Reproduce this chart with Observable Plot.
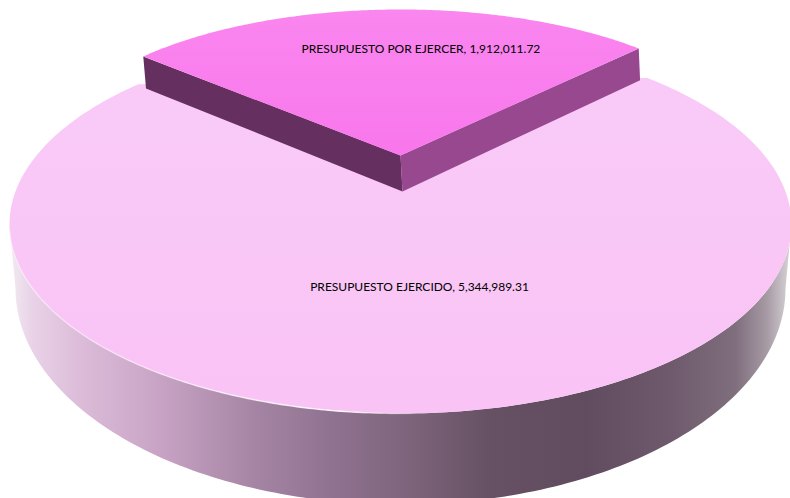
<!DOCTYPE html>
<html>
<head>
<meta charset="utf-8">
<script src="https://cdn.jsdelivr.net/npm/d3@7"></script>
<script src="https://cdn.jsdelivr.net/npm/@observablehq/plot@0.6"></script>
<style>
html,body{margin:0;padding:0;background:#fff;overflow:hidden}
svg{display:block}
</style>
</head>
<body>
<div id="chart"></div>
<script>
const categories = ["PRESUPUESTO POR EJERCER", "PRESUPUESTO EJERCIDO"];
const values = [1912011.72, 5344989.31];

// Perspective view of the 3D pie: each body is an upper and a lower ellipse.
const view = {
  slice: {
    top: {cx: 400, cy: 155, rx: 350, ry: 146},
    low: {cx: 402, cy: 191, rx: 349, ry: 152},
    mid: -2.2, squeeze: 0.951
  },
  main: {
    top: {cx: 400, cy: 224, rx: 391, ry: 189},
    low: {cx: 400, cy: 288, rx: 385, ry: 216},
    mid: -1.45, squeeze: 0.857, tip: {cx: 401, cy: 186}
  }
};
const labelPolar = [{r: 0.728, deg: 4.6}, {r: 0.337, deg: 171.7}];

const total = d3.sum(values);
const sweep = (values[0] / total) * 360;
const rad = d => d * Math.PI / 180;
const at = (e, deg, r = 1) => ({x: e.cx + e.rx * r * Math.sin(rad(deg)), y: e.cy - e.ry * r * Math.cos(rad(deg))});
const arc = (e, a, b, n = 160) => d3.range(n + 1).map(i => at(e, a + (b - a) * i / n));

const sHalf = sweep / 2 * view.slice.squeeze;
const sA = view.slice.mid - sHalf, sB = view.slice.mid + sHalf;
const mHalf = sweep / 2 * view.main.squeeze;
const mA = view.main.mid + mHalf, mB = view.main.mid - mHalf + 360;

const S = view.slice, M = view.main;
const sideOuter = [...arc(M.top, 90, 270), ...arc(M.low, 270, 90)];
const faceMain = [...arc(M.top, mA, mB, 300), at(M.tip, 0, 0)];
const faceSlice = [at(S.top, 0, 0), ...arc(S.top, sA, sB)];
const sideLeft = [at(S.top, sA), at(S.top, 0, 0), at(S.low, 0, 0), at(S.low, sA)];
const sideRight = [at(S.top, sB), at(S.top, 0, 0), at(S.low, 0, 0), at(S.low, sB)];
const rim = arc(M.top, 268, 172);
const fmt = d3.format(",.2f");
const labels = categories.map((c, i) => ({
  text: `${c}, ${fmt(values[i])}`,
  ...(i === 0 ? at(S.top, labelPolar[0].deg, labelPolar[0].r) : at(M.top, labelPolar[1].deg, labelPolar[1].r))
}));

const sideStops = [[0.015,"#f0e8f0"],[0.04,"#e9d2e7"],[0.1,"#dcbcd9"],[0.2,"#c8a3c5"],[0.32,"#a685a4"],[0.42,"#8f7290"],[0.52,"#7d647b"],[0.62,"#665063"],[0.74,"#614c5f"],[0.85,"#6e5a6c"],[0.93,"#7f6e7d"],[0.97,"#a69aa4"],[1,"#d8d4d8"]];

function gradients() {
  const defs = d3.create("svg:defs");
  const add = (id, stops, attrs) => {
    const g = defs.append("linearGradient").attr("id", id).attr("gradientUnits", "userSpaceOnUse");
    Object.entries(attrs).forEach(([k, v]) => g.attr(k, v));
    stops.forEach(([o, c, a]) => g.append("stop").attr("offset", o).attr("stop-color", c).attr("stop-opacity", a ?? 1));
  };
  add("gSide", sideStops, {x1: 0, x2: 790, y1: 0, y2: 0});
  add("gMain", [[0, "#f9caf7"], [1, "#f9c3f5"]], {x1: 0, x2: 0, y1: 80, y2: 420});
  add("gSlice", [[0, "#fa86ef"], [1, "#f877ec"]], {x1: 0, x2: 0, y1: 10, y2: 155});
  add("gRim", [[0, "#ffffff", 0.35], [0.35, "#ffffff", 0.5], [0.8, "#ffffff", 0.9], [1, "#ffffff", 0]], {x1: 10, x2: 420, y1: 0, y2: 0});
  return defs.node();
}

const shape = (rows, fill) => Plot.line(rows, {x: "x", y: "y", fill, stroke: "none"});

const chart = Plot.plot({
  width: 790, height: 498,
  marginTop: 0, marginRight: 0, marginBottom: 0, marginLeft: 0,
  x: {domain: [0, 790], range: [0, 790], axis: null},
  y: {domain: [0, 498], range: [0, 498], axis: null},
  style: {background: "#fff"},
  marks: [
    gradients,
    shape(sideOuter, "url(#gSide)"),
    shape(faceMain, "url(#gMain)"),
    Plot.line(rim, {x: "x", y: "y", stroke: "url(#gRim)", strokeWidth: 1.4}),
    shape(sideLeft, "#652f5f"),
    shape(sideRight, "#97488f"),
    shape(faceSlice, "url(#gSlice)"),
    Plot.text(labels, {x: "x", y: "y", text: "text", fontFamily: "Lato", fontSize: 12, fill: "#000"})
  ]
});
document.getElementById("chart").append(chart);
</script>
</body>
</html>
